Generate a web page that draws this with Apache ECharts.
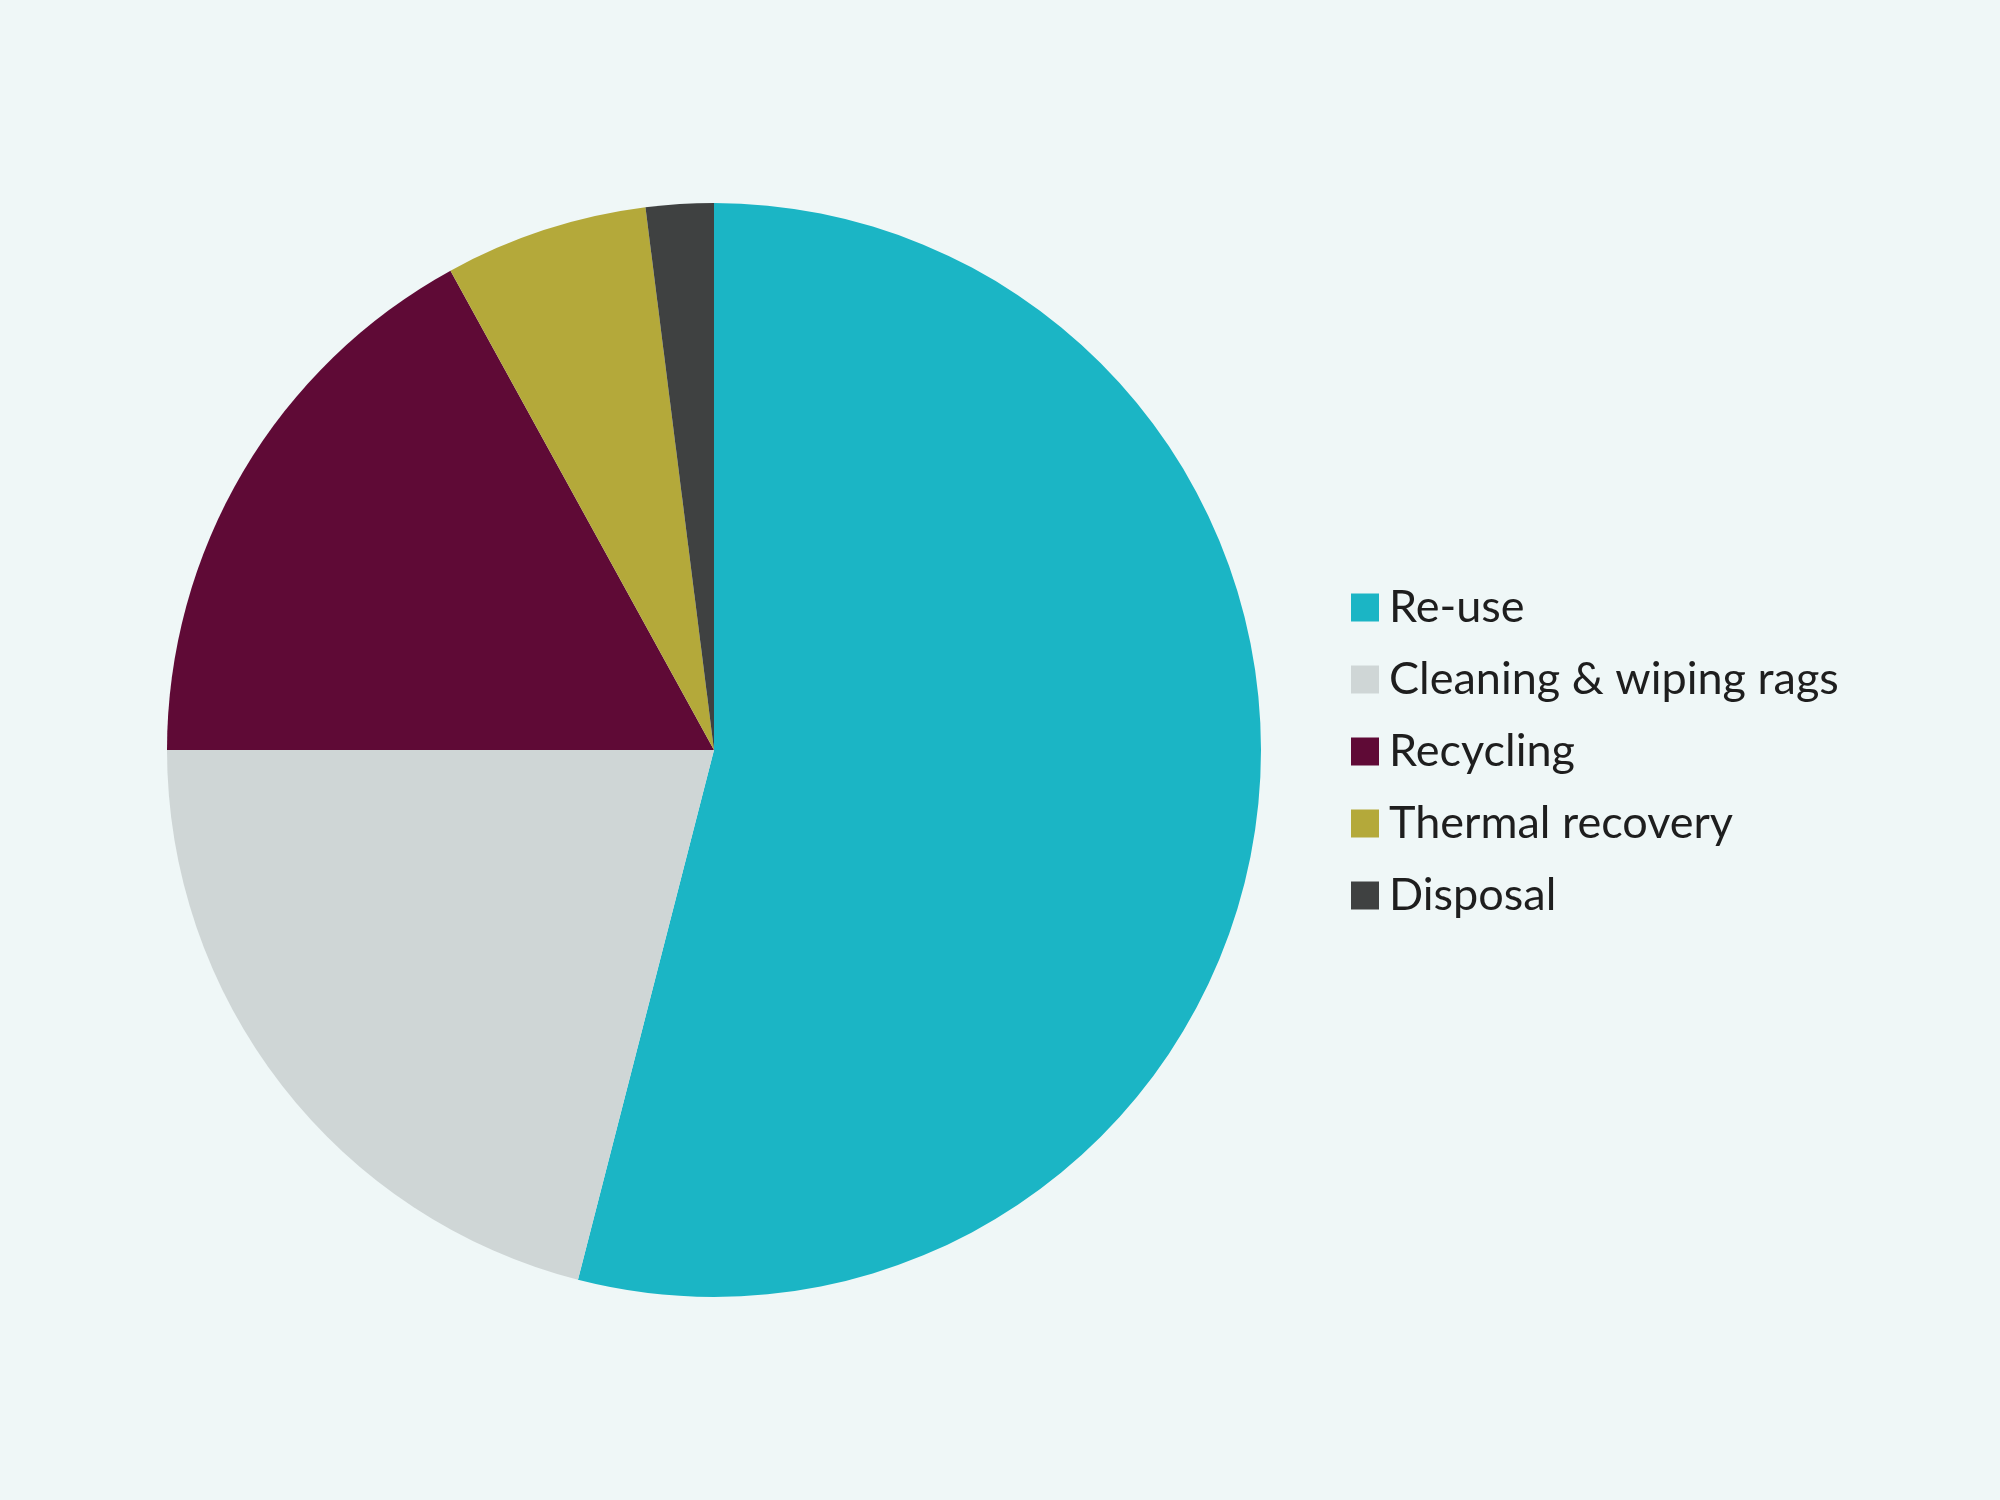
<!DOCTYPE html>
<html>
<head>
<meta charset="utf-8">
<script src="https://cdn.jsdelivr.net/npm/echarts@6/dist/echarts.min.js"></script>
<style>
html,body{margin:0;padding:0;background:#eff7f7;}
#chart{width:2000px;height:1500px;}
</style>
</head>
<body>
<div id="chart"></div>
<script>
const categories = ['Re-use', 'Cleaning & wiping rags', 'Recycling', 'Thermal recovery', 'Disposal'];
const values = [54, 21, 17, 6, 2];
const colors = ['#1bb5c5', '#cfd6d6', '#5f0a36', '#b4a93a', '#3f4141'];

const chart = echarts.init(document.getElementById('chart'), null, {renderer: 'canvas'});
chart.setOption({
  backgroundColor: '#eff7f7',
  animation: false,
  legend: {
    orient: 'vertical',
    left: 1346,
    top: 580,
    itemWidth: 28,
    itemHeight: 28,
    itemGap: 27,
    icon: 'rect',
    selectedMode: false,
    textStyle: {
      fontFamily: 'Lato',
      fontSize: 45,
      color: '#1e1e1e',
      padding: [0, 0, 0, 5]
    },
    data: categories
  },
  series: [{
    type: 'pie',
    center: [714, 750],
    radius: 547,
    startAngle: 90,
    clockwise: true,
    label: {show: false},
    labelLine: {show: false},
    emphasis: {disabled: true},
    itemStyle: {borderWidth: 0},
    data: categories.map((c, i) => ({name: c, value: values[i], itemStyle: {color: colors[i]}}))
  }]
});
</script>
</body>
</html>
